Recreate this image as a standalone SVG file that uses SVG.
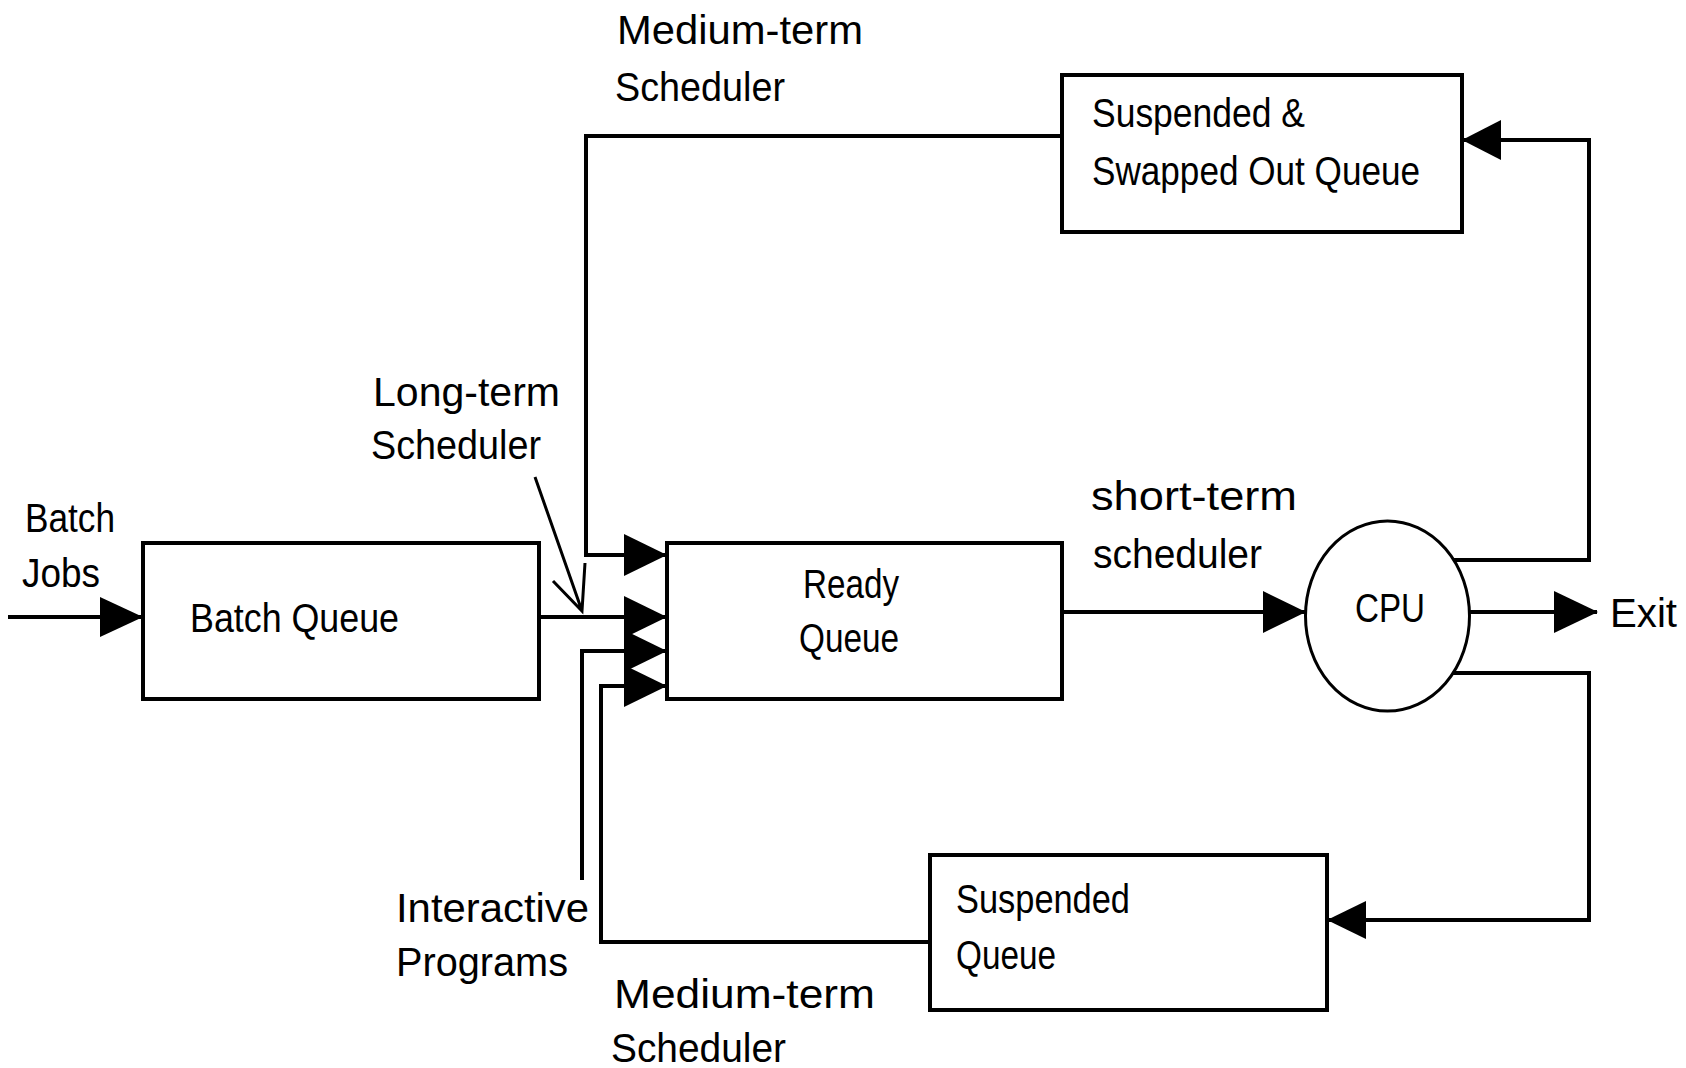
<svg xmlns="http://www.w3.org/2000/svg" width="1686" height="1068" viewBox="0 0 1686 1068">
<style>
  .box { fill: #fff; stroke: #000; stroke-width: 4; }
  .cpu { fill: #fff; stroke: #000; stroke-width: 3; }
  .ln { fill: none; stroke: #000; stroke-width: 4; stroke-linejoin: miter; stroke-linecap: square; }
  .thin { fill: none; stroke: #000; stroke-width: 3; }
  .ah { fill: #000; stroke: none; }
  text { font-family: "Liberation Sans", Arial, sans-serif; font-size: 40px; fill: #000; }
</style>
<rect width="1686" height="1068" fill="#fff"/>

<g id="connectors">
  <!-- batch jobs input -->
  <path class="ln" d="M10,617 H140"/>
  <polygon class="ah" points="143,617 100,597 100,637"/>
  <!-- batch queue to ready queue -->
  <path class="ln" d="M539,617 H664"/>
  <polygon class="ah" points="667,617 624,596 624,638"/>
  <!-- medium-term top: swapped out queue back to ready -->
  <path class="ln" d="M1062,136 H586 V555 H664"/>
  <polygon class="ah" points="667,555 624,534 624,576"/>
  <!-- interactive programs -->
  <path class="ln" d="M582,878 V651 H664"/>
  <polygon class="ah" points="667,651 624,630 624,672"/>
  <!-- medium-term bottom: suspended queue back to ready -->
  <path class="ln" d="M930,942 H601 V686 H664"/>
  <polygon class="ah" points="667,686 624,665 624,707"/>
  <!-- ready to CPU -->
  <path class="ln" d="M1062,612 H1303"/>
  <polygon class="ah" points="1306,612 1263,591 1263,633"/>
  <!-- CPU to exit -->
  <path class="ln" d="M1470,612 H1595"/>
  <polygon class="ah" points="1598,612 1554,591 1554,633"/>
  <!-- CPU to suspended & swapped out -->
  <path class="ln" d="M1453,560 H1589 V140 H1465"/>
  <polygon class="ah" points="1462,140 1501,120 1501,160"/>
  <!-- CPU to suspended queue -->
  <path class="ln" d="M1453,673 H1589 V920 H1330"/>
  <polygon class="ah" points="1327,920 1366,901 1366,939"/>
  <!-- long-term scheduler pointer -->
  <path class="thin" d="M535,477 L582,611 M553,581 L582,611 L585,563"/>
</g>

<g id="batch-queue">
  <rect class="box" x="143" y="543" width="396" height="156"/>
  <text x="190" y="632" textLength="209" lengthAdjust="spacingAndGlyphs">Batch Queue</text>
</g>

<g id="ready-queue">
  <rect class="box" x="667" y="543" width="395" height="156"/>
  <text x="803" y="598" textLength="96" lengthAdjust="spacingAndGlyphs">Ready</text>
  <text x="799" y="652" textLength="100" lengthAdjust="spacingAndGlyphs">Queue</text>
</g>

<g id="swapped-queue">
  <rect class="box" x="1062" y="75" width="400" height="157"/>
  <text x="1092" y="127" textLength="213" lengthAdjust="spacingAndGlyphs">Suspended &amp;</text>
  <text x="1092" y="185" textLength="328" lengthAdjust="spacingAndGlyphs">Swapped Out Queue</text>
</g>

<g id="suspended-queue">
  <rect class="box" x="930" y="855" width="397" height="155"/>
  <text x="956" y="913" textLength="174" lengthAdjust="spacingAndGlyphs">Suspended</text>
  <text x="956" y="969" textLength="100" lengthAdjust="spacingAndGlyphs">Queue</text>
</g>

<g id="cpu">
  <ellipse class="cpu" cx="1387.5" cy="616" rx="82" ry="95"/>
  <text x="1355" y="622" textLength="70" lengthAdjust="spacingAndGlyphs">CPU</text>
</g>

<g id="labels">
  <text x="617" y="44" textLength="246" lengthAdjust="spacingAndGlyphs">Medium-term</text>
  <text x="615" y="101" textLength="170" lengthAdjust="spacingAndGlyphs">Scheduler</text>
  <text x="373" y="406" textLength="187" lengthAdjust="spacingAndGlyphs">Long-term</text>
  <text x="371" y="459" textLength="170" lengthAdjust="spacingAndGlyphs">Scheduler</text>
  <text x="25" y="532" textLength="90" lengthAdjust="spacingAndGlyphs">Batch</text>
  <text x="22" y="587" textLength="78" lengthAdjust="spacingAndGlyphs">Jobs</text>
  <text x="1091" y="510" textLength="206" lengthAdjust="spacingAndGlyphs">short-term</text>
  <text x="1093" y="568" textLength="169" lengthAdjust="spacingAndGlyphs">scheduler</text>
  <text x="1610" y="627" textLength="67" lengthAdjust="spacingAndGlyphs">Exit</text>
  <text x="396" y="922" textLength="193" lengthAdjust="spacingAndGlyphs">Interactive</text>
  <text x="396" y="976" textLength="172" lengthAdjust="spacingAndGlyphs">Programs</text>
  <text x="614" y="1008" textLength="261" lengthAdjust="spacingAndGlyphs">Medium-term</text>
  <text x="611" y="1062" textLength="175" lengthAdjust="spacingAndGlyphs">Scheduler</text>
</g>
</svg>
